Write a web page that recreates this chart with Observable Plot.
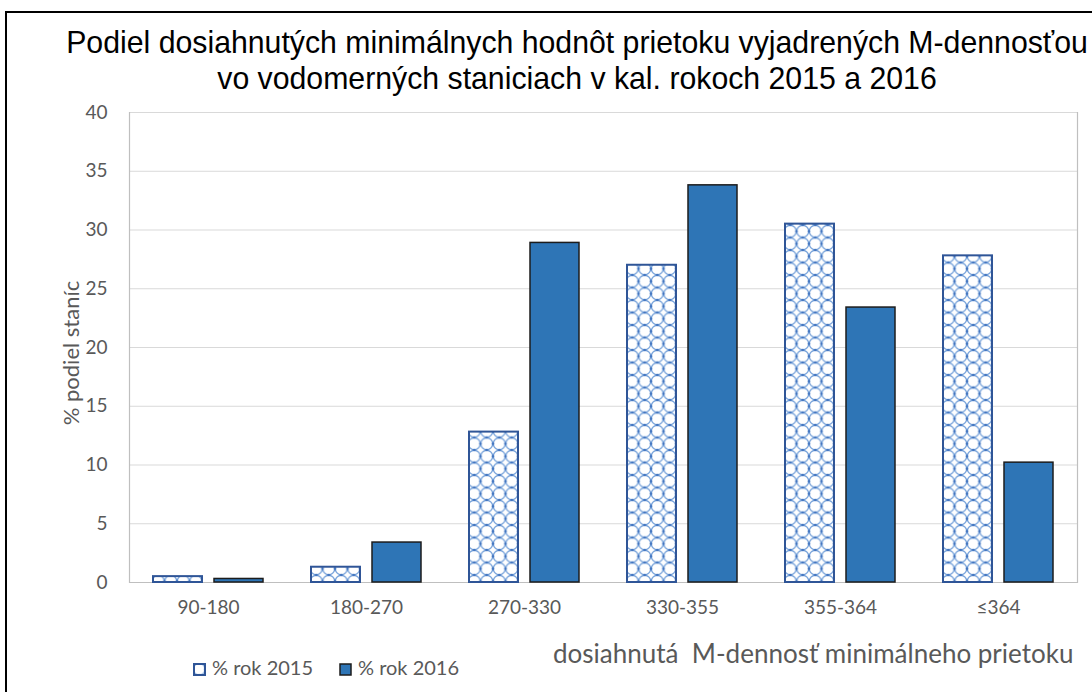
<!DOCTYPE html>
<html><head><meta charset="utf-8">
<script src="https://cdn.jsdelivr.net/npm/d3@7"></script>
<script src="https://cdn.jsdelivr.net/npm/@observablehq/plot@0.6"></script>
<style>
html,body{margin:0;padding:0;width:1092px;height:692px;overflow:hidden;background:#fff;}
#frame{position:absolute;left:5px;top:11px;width:1200px;height:800px;border:2px solid #000;box-sizing:border-box;}
#title{position:absolute;left:0;top:24px;width:1154px;text-align:center;font-family:"Liberation Sans",Arial,sans-serif;font-size:32px;line-height:36px;color:#000;white-space:nowrap;transform:scaleX(0.945);transform-origin:577px 0;}
#chart{position:absolute;left:0;top:100px;}
#ylabel{position:absolute;left:70px;top:353px;transform:translate(-50%,-50%) rotate(-90deg);font-family:Lato,sans-serif;font-size:22px;color:#595959;white-space:nowrap;}
.leg{position:absolute;top:654px;font-family:Lato,sans-serif;font-size:20px;line-height:26px;color:#595959;white-space:nowrap;}
.leg svg{vertical-align:-1px;margin-right:6px;}
#xtitle{position:absolute;left:553px;top:638px;font-family:Lato,sans-serif;font-size:26px;line-height:30px;color:#595959;white-space:nowrap;}
</style></head>
<body>
<div id="frame"></div>
<div id="title">Podiel dosiahnutých minimálnych hodnôt prietoku vyjadrených M-dennosťou<br>vo vodomerných staniciach v kal. rokoch 2015 a 2016</div>
<div id="chart"></div>
<div id="ylabel">% podiel staníc</div>
<div class="leg" id="leg1"></div>
<div class="leg" id="leg2"></div>
<div id="xtitle">dosiahnutá&nbsp; M-dennosť minimálneho prietoku</div>
<script>
const categories = ["90-180","180-270","270-330","330-355","355-364","≤364"];
const seriesNames = ["% rok 2015","% rok 2016"];
const values2015 = [0.5, 1.3, 12.8, 27.0, 30.5, 27.8];
const values2016 = [0.3, 3.4, 28.9, 33.8, 23.4, 10.2];
const yTicks = [0,5,10,15,20,25,30,35,40];

const data = categories.flatMap((c,i)=>[
  {category:c, series:seriesNames[0], value:values2015[i]},
  {category:c, series:seriesNames[1], value:values2016[i]}
]);

const chart = Plot.plot({
  width:1092, height:530,
  marginTop:12, marginBottom:48, marginLeft:127, marginRight:14,
  style:{fontFamily:"Lato, sans-serif", fontSize:"19px", color:"#595959", background:"transparent", overflow:"visible"},
  fx:{domain:categories, padding:0, label:null},
  x:{domain:seriesNames, paddingInner:0.1935, paddingOuter:0.375, axis:null},
  y:{domain:[0,40], label:null},
  marks:[
    Plot.gridY(yTicks, {stroke:"#d9d9d9", strokeOpacity:1, strokeWidth:1.2}),
    Plot.ruleY([0], {stroke:"#bfbfbf", strokeWidth:1.2}),
    Plot.frame({anchor:"left", facetAnchor:"left", stroke:"#bfbfbf", strokeWidth:1.2}),
    Plot.frame({anchor:"right", facetAnchor:"right", stroke:"#bfbfbf", strokeWidth:1.2}),
    Plot.axisY(yTicks, {tickSize:0, tickPadding:22, label:null, fill:"#595959"}),
    Plot.axisFx({anchor:"bottom", tickSize:0, tickPadding:18, label:null, fill:"#595959"}),
    Plot.barY(data.filter(d=>d.series===seriesNames[0]), {fx:"category", x:"series", y:"value", fill:"url(#pat2015)", stroke:"#2F5597", strokeWidth:2}),
    Plot.barY(data.filter(d=>d.series===seriesNames[1]), {fx:"category", x:"series", y:"value", fill:"#2E75B6", stroke:"#1c1c1c", strokeWidth:1.5})
  ]
});

const defs = d3.select(chart).insert("defs", ":first-child");
const t = 12.5;
const pat = defs.append("pattern").attr("id","pat2015").attr("patternUnits","userSpaceOnUse").attr("width",t).attr("height",t);
pat.append("rect").attr("width",t).attr("height",t).attr("fill","#fff");
pat.append("circle").attr("cx",t/2).attr("cy",t/2).attr("r",t/2-0.3).attr("fill","none").attr("stroke","#6F9DD8").attr("stroke-width",1.3);
[[t/2,0],[0,t/2],[t,t/2],[t/2,t]].forEach(([cx,cy])=>pat.append("circle").attr("cx",cx).attr("cy",cy).attr("r",1.3).attr("fill","#3F72BE"));
document.getElementById("chart").appendChild(chart);

function swatch(fill, stroke, sw){
  return `<svg width="13" height="13"><rect x="1" y="1" width="11" height="11" fill="${fill}" stroke="${stroke}" stroke-width="${sw}"/></svg>`;
}
const l1 = document.getElementById("leg1");
l1.style.left = "193px";
l1.innerHTML = swatch("url(#pat2015)","#2F5597",2) + seriesNames[0];
const l2 = document.getElementById("leg2");
l2.style.left = "339px";
l2.innerHTML = swatch("#2E75B6","#1c1c1c",1.5) + seriesNames[1];
</script>
</body></html>
